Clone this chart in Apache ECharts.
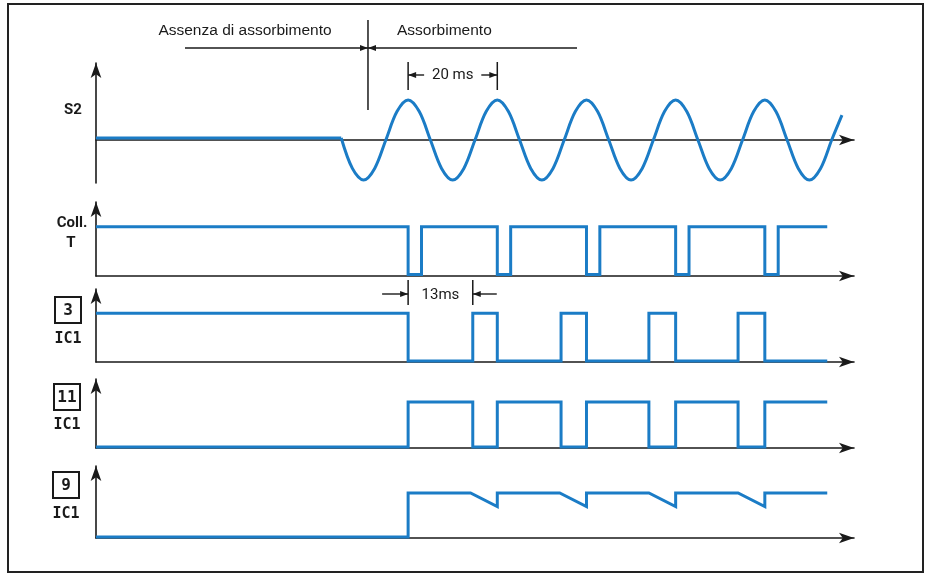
<!DOCTYPE html>
<html>
<head>
<meta charset="utf-8">
<script src="https://cdn.jsdelivr.net/npm/echarts@6/dist/echarts.min.js"></script>
<style>
  html, body { margin: 0; padding: 0; background: #ffffff; }
  #chart { width: 929px; height: 577px; }
</style>
</head>
<body>
<div id="chart"></div>
<script>
// Time axis (ms) shared by every trace
const timeMax = 170;

// S2: flat while nothing is absorbed, then the 20 ms mains sine
const s2FlatTimes = [0, 55];
const s2FlatValues = [0.05, 0.05];
const s2Times = [55, 57.5, 60, 62.5, 65, 67.5, 70, 72.5, 75, 77.5, 80, 82.5, 85, 87.5, 90, 92.5,
  95, 97.5, 100, 102.5, 105, 107.5, 110, 112.5, 115, 117.5, 120, 122.5, 125, 127.5, 130, 132.5,
  135, 137.5, 140, 142.5, 145, 147.5, 150, 152.5, 155, 157.5, 160, 162.5, 165, 167.3];
const s2Values = [0.05, -0.71, -1, -0.71, 0, 0.71, 1, 0.71, 0, -0.71, -1, -0.71, 0, 0.71, 1, 0.71,
  0, -0.71, -1, -0.71, 0, 0.71, 1, 0.71, 0, -0.71, -1, -0.71, 0, 0.71, 1, 0.71,
  0, -0.71, -1, -0.71, 0, 0.71, 1, 0.71, 0, -0.71, -1, -0.71, 0, 0.62];

// Collector of T: level changes (value holds until the next time)
const collTimes = [0, 70, 73, 90, 93, 110, 113, 130, 133, 150, 153, 164];
const collLevels = [1, 0.03, 1, 0.03, 1, 0.03, 1, 0.03, 1, 0.03, 1, 1];

// IC1 pin 3
const pin3Times = [0, 70, 84.5, 90, 104.3, 110, 124, 130, 144, 150, 164];
const pin3Levels = [1, 0.02, 1, 0.02, 1, 0.02, 1, 0.02, 1, 0.02, 0.02];

// IC1 pin 11
const pin11Times = [0, 70, 84.5, 90, 104.3, 110, 124, 130, 144, 150, 164];
const pin11Levels = [0.02, 1, 0.02, 1, 0.02, 1, 0.02, 1, 0.02, 1, 1];

// IC1 pin 9: held level with a sag before every recharge
const pin9Times = [0, 70, 70, 84, 90, 90, 104, 110, 110, 124, 130, 130, 144, 150, 150, 164];
const pin9Values = [0.02, 0.02, 1, 1, 0.7, 1, 1, 0.7, 1, 1, 0.7, 1, 1, 0.7, 1, 1];

// Marker spans (ms)
const periodSpan = [70, 90];      // "20 ms"
const delaySpan = [70, 84.5];     // "13ms"
const absorptionStart = 61;

const zip = (xs, ys) => xs.map((x, i) => [x, ys[i]]);

const BLUE = '#1b7cc6';
const INK = '#1a1a1a';

const panels = [
  { top: 63,  height: 120, min: -1.075, max: 1.925 },
  { top: 202, height: 74,  min: 0, max: 1.5 },
  { top: 289, height: 73,  min: 0, max: 1.5 },
  { top: 379, height: 69,  min: 0, max: 1.5 },
  { top: 466, height: 72,  min: 0, max: 1.6 }
];

const axisLine = {
  show: true,
  symbol: ['none', 'arrow'],
  symbolSize: [8, 15],
  lineStyle: { color: INK, width: 1.6 }
};

const grid = panels.map(p => ({ left: 96, width: 758, top: p.top, height: p.height }));
const xAxis = panels.map((p, i) => ({
  type: 'value', gridIndex: i, min: 0, max: timeMax,
  axisLine: Object.assign({ onZero: true }, axisLine),
  axisTick: { show: false }, axisLabel: { show: false }, splitLine: { show: false }
}));
const yAxis = panels.map((p, i) => ({
  type: 'value', gridIndex: i, min: p.min, max: p.max,
  axisLine: axisLine,
  axisTick: { show: false }, axisLabel: { show: false }, splitLine: { show: false }
}));

const traceStyle = { color: BLUE, width: 3, join: 'miter' };
function trace(idx, data, extra) {
  return Object.assign({
    type: 'line', xAxisIndex: idx, yAxisIndex: idx, data: data,
    symbol: 'none', showSymbol: false, silent: true, animation: false,
    lineStyle: traceStyle, z: 3
  }, extra || {});
}

const series = [
  trace(0, zip(s2FlatTimes, s2FlatValues)),
  trace(0, zip(s2Times, s2Values), { smooth: 0.33 }),
  trace(1, zip(collTimes, collLevels), { step: 'end' }),
  trace(2, zip(pin3Times, pin3Levels), { step: 'end' }),
  trace(3, zip(pin11Times, pin11Levels), { step: 'end' }),
  trace(4, zip(pin9Times, pin9Values))
];

const chart = echarts.init(document.getElementById('chart'), null, { renderer: 'canvas' });
chart.setOption({
  backgroundColor: '#ffffff',
  animation: false,
  grid: grid, xAxis: xAxis, yAxis: yAxis, series: series
});

// ---- annotations -------------------------------------------------------
const px = t => chart.convertToPixel({ xAxisIndex: 0 }, t);

function text(str, x, y, font, align) {
  return {
    type: 'text', x: x, y: y, silent: true, z: 10,
    style: {
      text: str, font: font, fill: INK,
      align: align || 'center', verticalAlign: 'middle',
      textAlign: align || 'center', textVerticalAlign: 'middle'
    }
  };
}
function seg(x1, y1, x2, y2, w) {
  return {
    type: 'line', silent: true, z: 10,
    shape: { x1: x1, y1: y1, x2: x2, y2: y2 },
    style: { stroke: INK, lineWidth: w || 1.5 }
  };
}
// dir = +1 points right, -1 points left
function head(xTip, y, dir) {
  return {
    type: 'polygon', silent: true, z: 11,
    shape: { points: [[xTip, y], [xTip - dir * 8, y - 3], [xTip - dir * 8, y + 3]] },
    style: { fill: INK }
  };
}
function box(label, cx, cy) {
  return [
    { type: 'rect', silent: true, z: 10,
      shape: { x: cx - 13, y: cy - 13, width: 26, height: 26 },
      style: { fill: 'none', stroke: INK, lineWidth: 2 } },
    text(label, cx, cy + 1, 'bold 16px "DejaVu Sans Mono"')
  ];
}

const labelFont = 'bold 15px Roboto';
const monoFont = 'bold 15px "DejaVu Sans Mono"';
const headFont = '15.5px "Liberation Sans"';
const spanFont = '15px Roboto';

const xDiv = px(absorptionStart);
const p20a = px(periodSpan[0]), p20b = px(periodSpan[1]);
const p13a = px(delaySpan[0]), p13b = px(delaySpan[1]);

const graphic = [
  // frame
  { type: 'rect', silent: true, z: 1,
    shape: { x: 8, y: 4, width: 915, height: 568 },
    style: { fill: 'none', stroke: '#222', lineWidth: 2 } },

  // trace labels
  text('S2', 73, 110, labelFont),
  text('Coll.', 72, 223, labelFont),
  text('T', 71, 243, labelFont),
  ...box('3', 68, 310), text('IC1', 68, 339, monoFont),
  ...box('11', 67, 397), text('IC1', 67, 425, monoFont),
  ...box('9', 66, 485), text('IC1', 66, 514, monoFont),

  // absorption heading
  text('Assenza di assorbimento', 245, 31, headFont),
  text('Assorbimento', xDiv + 29, 31, headFont, 'left'),
  seg(185, 48, xDiv, 48, 1.4),
  seg(xDiv, 48, 577, 48, 1.4),
  head(xDiv, 48, 1),
  head(xDiv, 48, -1),
  seg(xDiv, 20, xDiv, 110, 1.5),

  // 20 ms period marker
  seg(p20a, 62, p20a, 90, 1.5),
  seg(p20b, 62, p20b, 90, 1.5),
  seg(p20a, 75, p20a + 16, 75, 1.4),
  head(p20a, 75, -1),
  seg(p20b - 16, 75, p20b, 75, 1.4),
  head(p20b, 75, 1),
  text('20 ms', (p20a + p20b) / 2, 75, spanFont),

  // 13 ms delay marker
  seg(p13a, 280, p13a, 305, 1.5),
  seg(p13b, 280, p13b, 305, 1.5),
  seg(p13a - 26, 294, p13a, 294, 1.4),
  head(p13a, 294, 1),
  seg(p13b, 294, p13b + 24, 294, 1.4),
  head(p13b, 294, -1),
  text('13ms', (p13a + p13b) / 2, 295, spanFont)
];

chart.setOption({ graphic: graphic });
</script>
</body>
</html>
